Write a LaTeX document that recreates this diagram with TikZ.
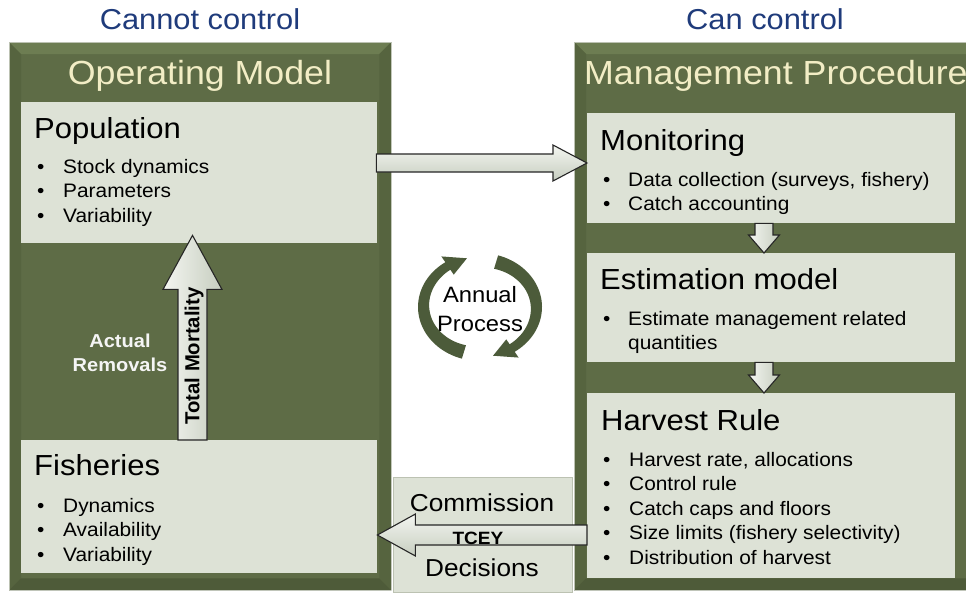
\documentclass[tikz,border=0pt]{standalone}
\usepackage{fontspec}
\setmainfont{Liberation Sans}[FakeStretch=1.07]
\newfontfamily\rotfont{Liberation Sans}
\usetikzlibrary{calc}
\definecolor{gmain}{HTML}{5E6C46}
\definecolor{gtop}{HTML}{6D7D52}
\definecolor{gside}{HTML}{56643F}
\definecolor{gbot}{HTML}{4E5B39}
\definecolor{gedge}{HTML}{BCC2B2}
\definecolor{lbox}{HTML}{DDE2D6}
\definecolor{navy}{HTML}{1F3B7B}
\definecolor{cream}{HTML}{F2EDC5}
\definecolor{agreen}{HTML}{4C5B3A}
\definecolor{arrtop}{HTML}{F4F6F1}
\definecolor{arrbot}{HTML}{C6CDBF}
\newcommand\mybevel[1]{%
  \fill[gtop] (#1.north west) -- (#1.north east) -- ([xshift=-12pt,yshift=-12pt]#1.north east) -- ([xshift=12pt,yshift=-12pt]#1.north west) -- cycle;
  \fill[gside] (#1.north west) -- ([xshift=12pt,yshift=-12pt]#1.north west) -- ([xshift=12pt,yshift=12pt]#1.south west) -- (#1.south west) -- cycle;
  \fill[gside] (#1.north east) -- ([xshift=-12pt,yshift=-12pt]#1.north east) -- ([xshift=-12pt,yshift=12pt]#1.south east) -- (#1.south east) -- cycle;
  \fill[gbot] (#1.south west) -- ([xshift=12pt,yshift=12pt]#1.south west) -- ([xshift=-12pt,yshift=12pt]#1.south east) -- (#1.south east) -- cycle;
  \draw[gedge, line width=0.8pt] (#1.south west) -- (#1.north west) -- (#1.north east);
}
\begin{document}
\begin{tikzpicture}[x=1pt,y=-1pt,
  greenbox/.style={fill=gmain, draw=none, inner sep=0pt, anchor=north west},
  lightbox/.style={fill=lbox, draw=none, inner sep=0pt, anchor=north west},
  toptitle/.style={inner sep=0pt, anchor=base, text=navy, font=\fontsize{28.8}{32}\selectfont},
  boxtitle/.style={inner sep=0pt, anchor=base west, text=cream, font=\fontsize{33.4}{36}\selectfont},
  heading/.style={inner sep=0pt, anchor=base west, text=black, font=\fontsize{29}{32}\selectfont},
  bulletmark/.style={inner sep=0pt, anchor=base west, text=black, font=\fontsize{19.5}{24}\selectfont},
  bullettext/.style={inner sep=0pt, anchor=base west, text=black, font=\fontsize{19.5}{24}\selectfont},
  barrow/.style={draw=black!85, line width=1.1pt, line join=miter, top color=arrtop, bottom color=arrbot},
  varrow/.style={draw=black!85, line width=1.1pt, line join=miter, left color=arrtop, right color=arrbot},
]
\useasboundingbox (0,0) rectangle (966,592);
\begin{scope}
\clip (0,0) rectangle (966,592);
\fill[white] (0,0) rectangle (966,592);

% titles
\node[toptitle] (tcannot) at (200,29) {Cannot control};
\node[toptitle] (tcan) at (765,29) {Can control};

% green boxes
\node[greenbox, minimum width=382pt, minimum height=548pt] (om) at (9,42) {};
\mybevel{om}
\node[greenbox, minimum width=410pt, minimum height=548pt] (mp) at (574,42) {};
\mybevel{mp}

\node[boxtitle, anchor=base] (omt) at (200,84) {Operating Model};
\node[boxtitle] (mpt) at (584,84) {Management Procedure};

% light boxes
\node[lightbox, minimum width=356pt, minimum height=141pt] (pop) at (21,102) {};
\node[lightbox, minimum width=356pt, minimum height=133pt] (fish) at (21,440) {};
\node[lightbox, minimum width=368pt, minimum height=110pt] (mon) at (587,113) {};
\node[lightbox, minimum width=368pt, minimum height=109pt] (est) at (587,253) {};
\node[lightbox, minimum width=368pt, minimum height=185pt] (hr) at (587,393) {};
\node[lightbox, draw=gedge, line width=0.8pt, minimum width=179pt, minimum height=115pt] (com) at (393,477) {};

% headings
\node[heading] (hpop) at (34,138) {Population};
\node[heading] (hfish) at (34,475) {Fisheries};
\node[heading] (hmon) at (600,150) {Monitoring};
\node[heading] (hest) at (600,289) {Estimation model};
\node[heading] (hhr) at (601,430) {Harvest Rule};

% bullets
\foreach \t [count=\i] in {Stock dynamics, Parameters, Variability} {
  \node[bulletmark] (popm\i) at (37,{173+(\i-1)*24.5}) {•};
  \node[bullettext] (popt\i) at (63,{173+(\i-1)*24.5}) {\t};
}
\foreach \t [count=\i] in {Dynamics, Availability, Variability} {
  \node[bulletmark] (fishm\i) at (37,{512+(\i-1)*24.5}) {•};
  \node[bullettext] (fisht\i) at (63,{512+(\i-1)*24.5}) {\t};
}
\foreach \t [count=\i] in {{Data collection (surveys, fishery)}, Catch accounting} {
  \node[bulletmark] (monm\i) at (603,{186+(\i-1)*24.5}) {•};
  \node[bullettext] (mont\i) at (628,{186+(\i-1)*24.5}) {\t};
}
\node[bulletmark] (estm1) at (603,325) {•};
\node[bullettext] (estt1) at (628,325) {Estimate management related};
\node[bullettext] (estt2) at (628,349.5) {quantities};
\foreach \t [count=\i] in {{Harvest rate, allocations}, Control rule, Catch caps and floors, Size limits (fishery selectivity), Distribution of harvest} {
  \node[bulletmark] (hrm\i) at (603,{466+(\i-1)*24.5}) {•};
  \node[bullettext] (hrt\i) at (629,{466+(\i-1)*24.5}) {\t};
}

% commission text
\node[inner sep=0pt, anchor=base, font=\fontsize{24.5}{28}\selectfont] (comt1) at (482,511) {Commission};
\node[inner sep=0pt, anchor=base, font=\fontsize{24.5}{28}\selectfont] (comt2) at (482,576) {Decisions};

% arrow pop -> mon
\coordinate (a1s) at (pop.east |- 0,163);
\coordinate (a1t) at (mon.west |- 0,163);
\shadedraw[barrow] ([xshift=-1pt,yshift=9pt]a1s) -- ([xshift=-34pt,yshift=9pt]a1t) -- ([xshift=-34pt,yshift=18pt]a1t) -- (a1t) -- ([xshift=-34pt,yshift=-18pt]a1t) -- ([xshift=-34pt,yshift=-9pt]a1t) -- ([xshift=-1pt,yshift=-9pt]a1s) -- cycle;

% arrow hr -> fish (TCEY)
\coordinate (a2s) at (hr.west |- 0,535);
\coordinate (a2t) at (fish.east |- 0,535);
\shadedraw[barrow] ([yshift=10pt]a2s) -- ([xshift=38pt,yshift=10pt]a2t) -- ([xshift=38pt,yshift=21pt]a2t) -- (a2t) -- ([xshift=38pt,yshift=-21pt]a2t) -- ([xshift=38pt,yshift=-10pt]a2t) -- ([yshift=-10pt]a2s) -- cycle;
\node[inner sep=0pt, anchor=base, font=\bfseries\fontsize{17.8}{20}\selectfont] (tcey) at (478,544) {TCEY};

% arrow fish -> pop (Total Mortality)
\coordinate (a3s) at (fish.north -| 192.5,0);
\coordinate (a3t0) at (pop.south -| 192.5,0);
\coordinate (a3t) at ([yshift=8pt]a3t0);
\shadedraw[varrow] ([xshift=-14.5pt]a3s) -- ([xshift=-14.5pt,yshift=-54pt]a3t) -- ([xshift=-29.5pt,yshift=-54pt]a3t) -- (a3t) -- ([xshift=29.5pt,yshift=-54pt]a3t) -- ([xshift=14.5pt,yshift=-54pt]a3t) -- ([xshift=14.5pt]a3s) -- cycle;
\node[inner sep=0pt, rotate=90, font=\rotfont\bfseries\fontsize{20.3}{22}\selectfont] (tm) at (194,356) {Total Mortality};
\node[inner sep=0pt, align=center, text=white!96!black, font=\bfseries\fontsize{18.7}{24}\selectfont] (ar) at (120,353) {Actual\\Removals};

% small down arrows
\coordinate (a4s) at (mon.south -| 764,0);
\coordinate (a4t) at (est.north -| 764,0);
\shadedraw[varrow] ([xshift=-9pt]a4s) -- ([xshift=-9pt,yshift=18pt]a4t) -- ([xshift=-15.5pt,yshift=18pt]a4t) -- (a4t) -- ([xshift=15.5pt,yshift=18pt]a4t) -- ([xshift=9pt,yshift=18pt]a4t) -- ([xshift=9pt]a4s) -- cycle;
\coordinate (a5s) at (est.south -| 764,0);
\coordinate (a5t) at (hr.north -| 764,0);
\shadedraw[varrow] ([xshift=-9pt]a5s) -- ([xshift=-9pt,yshift=18pt]a5t) -- ([xshift=-15.5pt,yshift=18pt]a5t) -- (a5t) -- ([xshift=15.5pt,yshift=18pt]a5t) -- ([xshift=9pt,yshift=18pt]a5t) -- ([xshift=9pt]a5s) -- cycle;

% annual process
\node[inner sep=0pt, align=center, font=\fontsize{22.2}{29}\selectfont] (ap) at (480,309) {Annual\\Process};
\begin{scope}[shift={(480,307)}, y=1pt]
  \foreach \r in {0,180} {
  \begin{scope}[rotate=\r]
  \fill[agreen]
    plot[domain=253:124, samples=40] ({62*cos(\x)},{54*sin(\x)})
    -- ({69*cos(124)},{61*sin(124)})
    -- ({58*cos(103)},{50*sin(103)})
    -- ({47*cos(124)},{39*sin(124)})
    -- plot[domain=124:253, samples=40] ({(62-(9+5*(\x-124)/129))*cos(\x)},{(54-(9+5*(\x-124)/129))*sin(\x)})
    -- cycle;
  \end{scope}
  }
\end{scope}
\end{scope}
\end{tikzpicture}
\end{document}
